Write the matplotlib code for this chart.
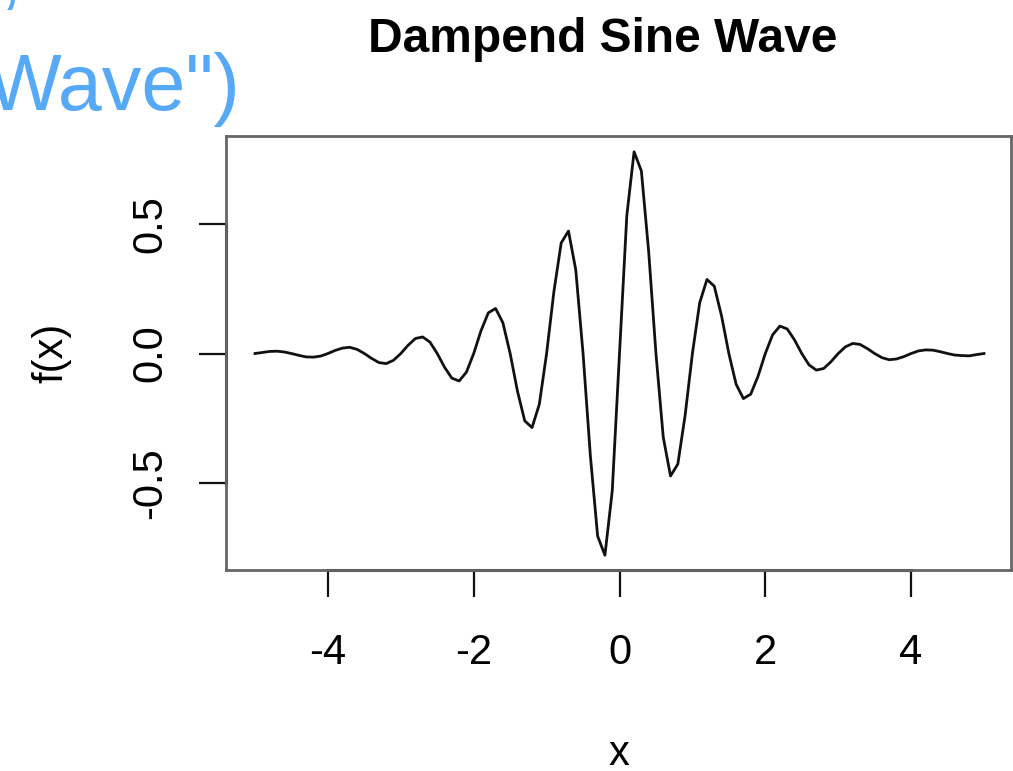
import matplotlib
matplotlib.use("Agg")
import matplotlib.pyplot as plt

plt.rcParams['font.family'] = ['Liberation Sans', 'DejaVu Sans']

# Sample points of the curve (step 0.1 from -5 to 5)
x_values = [-5.0, -4.9, -4.8, -4.7, -4.6, -4.5, -4.4, -4.3, -4.2, -4.1,
            -4.0, -3.9, -3.8, -3.7, -3.6, -3.5, -3.4, -3.3, -3.2, -3.1,
            -3.0, -2.9, -2.8, -2.7, -2.6, -2.5, -2.4, -2.3, -2.2, -2.1,
            -2.0, -1.9, -1.8, -1.7, -1.6, -1.5, -1.4, -1.3, -1.2, -1.1,
            -1.0, -0.9, -0.8, -0.7, -0.6, -0.5, -0.4, -0.3, -0.2, -0.1,
            0.0, 0.1, 0.2, 0.3, 0.4, 0.5, 0.6, 0.7, 0.8, 0.9,
            1.0, 1.1, 1.2, 1.3, 1.4, 1.5, 1.6, 1.7, 1.8, 1.9,
            2.0, 2.1, 2.2, 2.3, 2.4, 2.5, 2.6, 2.7, 2.8, 2.9,
            3.0, 3.1, 3.2, 3.3, 3.4, 3.5, 3.6, 3.7, 3.8, 3.9,
            4.0, 4.1, 4.2, 4.3, 4.4, 4.5, 4.6, 4.7, 4.8, 4.9, 5.0]
fx_values = [0.0, 0.004, 0.008, 0.009, 0.006, 0.0, -0.007, -0.013, -0.014, -0.010,
             0.0, 0.012, 0.021, 0.024, 0.016, 0.0, -0.019, -0.035, -0.039, -0.026,
             0.0, 0.032, 0.058, 0.064, 0.044, 0.0, -0.053, -0.095, -0.106, -0.072,
             0.0, 0.088, 0.157, 0.174, 0.119, 0.0, -0.145, -0.260, -0.286, -0.196,
             0.0, 0.239, 0.427, 0.473, 0.323, 0.0, -0.394, -0.705, -0.779, -0.532,
             0.0, 0.532, 0.779, 0.705, 0.394, 0.0, -0.323, -0.473, -0.427, -0.239,
             0.0, 0.196, 0.286, 0.260, 0.145, 0.0, -0.119, -0.174, -0.157, -0.088,
             0.0, 0.072, 0.106, 0.095, 0.053, 0.0, -0.044, -0.064, -0.058, -0.032,
             0.0, 0.026, 0.039, 0.035, 0.019, 0.0, -0.016, -0.024, -0.021, -0.012,
             0.0, 0.010, 0.014, 0.013, 0.007, 0.0, -0.006, -0.008, -0.009, -0.004, 0.0]

x_ticks = [-4, -2, 0, 2, 4]
y_ticks = [-0.5, 0.0, 0.5]
x_tick_labels = ['-4', '-2', '0', '2', '4']
y_tick_labels = ['-0.5', '0.0', '0.5']

fig = plt.figure(figsize=(10.13, 7.71), dpi=100)
ax = fig.add_axes([0.2231, 0.2607, 0.7754, 0.5629])

ax.plot(x_values, fx_values, color='#111111', linewidth=2.0)

ax.set_xlim(-5.398, 5.377)
ax.set_ylim(-0.836, 0.840)

for side in ['top', 'bottom', 'left', 'right']:
    ax.spines[side].set_color('#666666')
    ax.spines[side].set_linewidth(2)

# R-style axis lines between first and last tick
ax.plot([x_ticks[0], x_ticks[-1]], [-0.836, -0.836], color='#111111',
        linewidth=2.2, clip_on=False)
ax.plot([-5.398, -5.398], [y_ticks[0], y_ticks[-1]], color='#111111',
        linewidth=2.2, clip_on=False)

ax.set_xticks(x_ticks)
ax.set_xticklabels(x_tick_labels)
ax.set_yticks(y_ticks)
ax.set_yticklabels(y_tick_labels, rotation=90, va='center')
ax.tick_params(axis='both', length=19.4, width=1.6, color='#111111',
               labelsize=30, direction='out')
ax.tick_params(axis='x', pad=26)
ax.tick_params(axis='y', pad=21)

ax.set_xlabel('x', fontsize=30, labelpad=44)
ax.set_ylabel('f(x)', fontsize=30, labelpad=42)

fig.text(0.595, 1 - 52 / 771, 'Dampend Sine Wave', fontsize=34.5,
         fontweight='bold', ha='center', va='baseline')

# Cropped code text visible at the top left of the screenshot
fig.text(240 / 1013, 1 - 110 / 771, 'Wave")', fontsize=57, color='#56A9F7',
         ha='right', va='baseline')
fig.text(0 / 1013, 1 - 0 / 771, ',', fontsize=57, color='#56A9F7',
         ha='left', va='baseline')

fig.savefig('out.png', dpi=100)
